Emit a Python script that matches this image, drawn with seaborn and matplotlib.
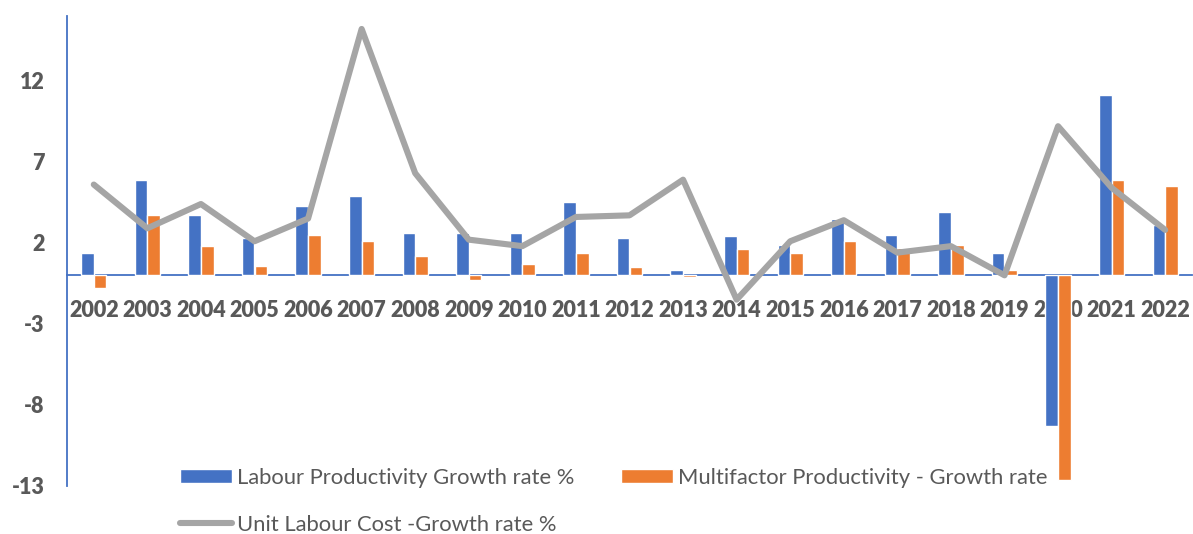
import numpy as np
import pandas as pd
import matplotlib
matplotlib.use("Agg")
import matplotlib.pyplot as plt
import seaborn as sns
from matplotlib.patches import Patch
from matplotlib.lines import Line2D

years = ["2002", "2003", "2004", "2005", "2006", "2007", "2008", "2009", "2010", "2011",
         "2012", "2013", "2014", "2015", "2016", "2017", "2018", "2019", "2020", "2021", "2022"]
labour_productivity = [1.4, 5.9, 3.7, 2.3, 4.3, 4.9, 2.6, 2.6, 2.6, 4.5,
                       2.3, 0.3, 2.4, 1.9, 3.5, 2.5, 3.9, 1.4, -9.3, 11.1, 3.1]
multifactor_productivity = [-0.8, 3.7, 1.8, 0.6, 2.5, 2.1, 1.2, -0.3, 0.7, 1.4,
                            0.5, -0.1, 1.6, 1.4, 2.1, 1.7, 1.9, 0.3, -12.6, 5.9, 5.5]
unit_labour_cost = [5.6, 2.9, 4.4, 2.1, 3.5, 15.2, 6.3, 2.2, 1.8, 3.6,
                    3.7, 5.9, -1.5, 2.1, 3.4, 1.4, 1.8, 0.0, 9.2, 5.4, 2.8]
y_ticks = [-13, -8, -3, 2, 7, 12]

lp_name = "Labour Productivity Growth rate %"
mfp_name = "Multifactor Productivity - Growth rate"
ulc_name = "Unit Labour Cost -Growth rate %"

BLUE, ORANGE, GREY = "#4472C4", "#ED7D31", "#A5A5A5"
TEXT = "#595959"

sns.set_theme(style="white")
plt.rcParams["font.family"] = ["Lato", "DejaVu Sans"]
plt.rcParams["axes.unicode_minus"] = False

bars = pd.DataFrame({
    "year": years * 2,
    "value": labour_productivity + multifactor_productivity,
    "series": [lp_name] * len(years) + [mfp_name] * len(years),
})
line = pd.DataFrame({"pos": np.arange(len(years)), "value": unit_labour_cost})

fig = plt.figure(figsize=(11.93, 5.34), dpi=100)
ax = fig.add_axes([67 / 1193, 48 / 534, 1125 / 1193, 470 / 534])

sns.barplot(data=bars, x="year", y="value", hue="series", order=years,
            hue_order=[lp_name, mfp_name], palette=[BLUE, ORANGE],
            width=0.47, saturation=1, legend=False, ax=ax, zorder=2)
sns.lineplot(data=line, x="pos", y="value", color=GREY, linewidth=4.4,
             legend=False, ax=ax, zorder=3,
             solid_joinstyle="round", solid_capstyle="round")

ax.set_xlim(-0.5, len(years) - 0.5)
ax.set_ylim(-13, 16)
ax.set_yticks(y_ticks)
ax.set_xlabel("")
ax.set_ylabel("")

for s in ["top", "right"]:
    ax.spines[s].set_visible(False)
ax.spines["bottom"].set_position(("data", 0))
ax.spines["bottom"].set_color(BLUE)
ax.spines["bottom"].set_linewidth(1.3)
ax.spines["left"].set_color(BLUE)
ax.spines["left"].set_linewidth(1.3)
ax.spines["bottom"].set_zorder(1)

ax.tick_params(axis="x", length=0, pad=18, labelsize=15.5, labelcolor=TEXT)
ax.tick_params(axis="y", length=0, pad=16, labelsize=15.5, labelcolor=TEXT)
for lbl in ax.get_xticklabels() + ax.get_yticklabels():
    lbl.set_fontweight("heavy")

handles = [
    Patch(facecolor=BLUE, label=lp_name),
    Line2D([0], [0], color=GREY, linewidth=4.4, solid_capstyle="round", label=ulc_name),
    Patch(facecolor=ORANGE, label=mfp_name),
]
fig.legend(handles=handles, ncol=2, loc="upper left",
           bbox_to_anchor=(180 / 1193, 1 - 468 / 534), frameon=False,
           fontsize=15.8, labelcolor=TEXT, handlelength=2.35, handleheight=0.63,
           handletextpad=0.27, columnspacing=2.1, labelspacing=1.22,
           borderaxespad=0, borderpad=0)

fig.savefig("out.png", dpi=100)
